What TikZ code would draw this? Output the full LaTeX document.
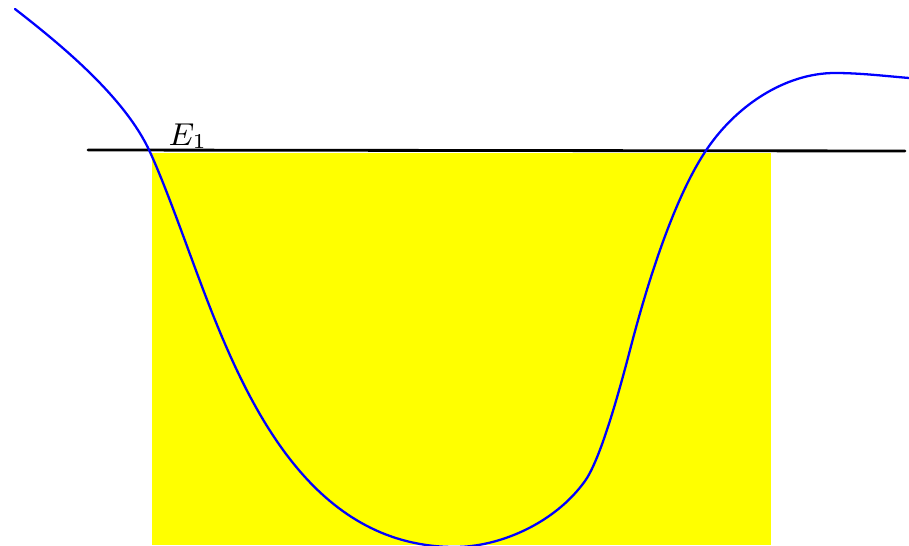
\documentclass[tikz,border=0pt]{standalone}
\usepackage{amsmath,amssymb}
\definecolor{wellc}{RGB}{255,255,0}

\begin{document}
\begin{tikzpicture}[x=1cm,y=1cm,line cap=round,line join=round]
\tikzset{lab/.style={font=\small}, levelline/.style={black,line width=0.8pt}, wavefn/.style={blue,line width=0.65pt}}

\useasboundingbox (0,0) rectangle (9.09,5.45);
\clip (0,0) rectangle (9.09,5.45);

% well region
\fill[wellc] (1.52,0) rectangle (7.71,3.92);

% energy level
\draw[levelline] (0.88,3.95)--(9.05,3.94);
\node[lab,anchor=base west,inner sep=0pt] (E1) at (1.68,4.00) {$E_1$};

% wave function
\draw[wavefn] (0.15,5.36) .. controls (0.60,5.01) and (1.25,4.48) .. (1.50,3.93)
  .. controls (1.70,3.49) and (1.93,2.80) .. (2.13,2.30)
  .. controls (2.55,1.25) and (3.20,-0.02) .. (4.55,-0.02)
  .. controls (5.00,-0.02) and (5.55,0.22) .. (5.85,0.64)
  .. controls (6.00,0.85) and (6.18,1.49) .. (6.30,1.95)
  .. controls (6.52,2.80) and (6.78,3.52) .. (7.05,3.93)
  .. controls (7.35,4.39) and (7.85,4.72) .. (8.35,4.72)
  .. controls (8.60,4.72) and (8.85,4.69) .. (9.09,4.67);
\end{tikzpicture}
\end{document}
